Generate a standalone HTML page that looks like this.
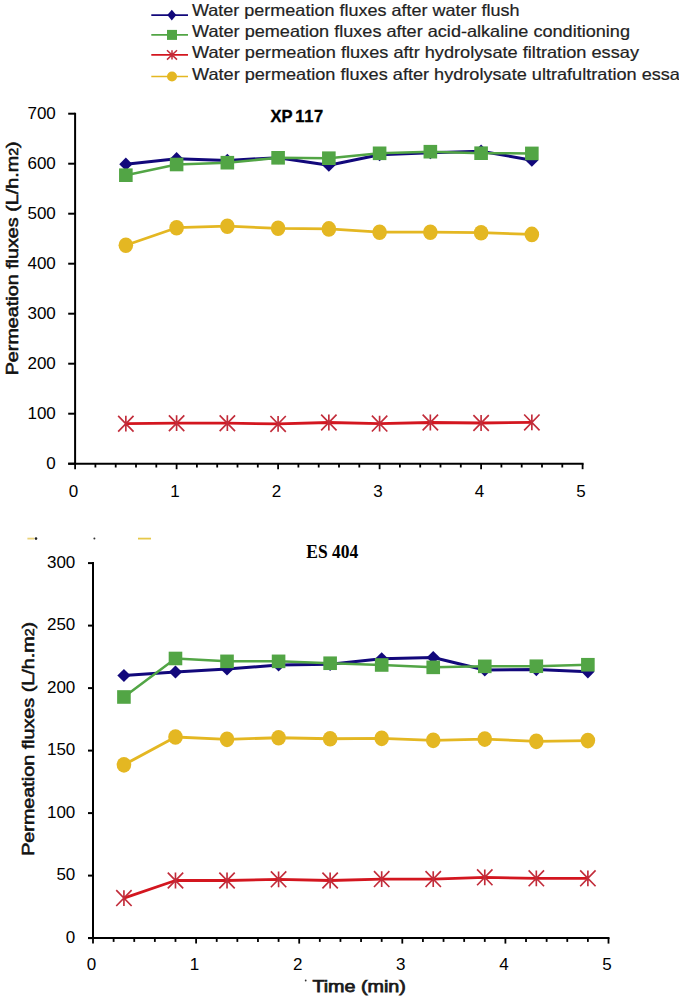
<!DOCTYPE html>
<html><head><meta charset="utf-8"><style>
html,body{margin:0;padding:0;background:#fff;}
body{width:679px;height:1000px;overflow:hidden;}
svg{display:block;}
text{font-family:"Liberation Sans",sans-serif;}
.ax{font-size:17px;fill:#000;}
.lg{font-size:16.5px;fill:#222;stroke:#222;stroke-width:0.2px;}
.t1{font-size:16.5px;font-weight:bold;fill:#000;stroke:#000;stroke-width:0.35px;}
.t2{font-family:"Liberation Serif",serif;font-size:18px;font-weight:bold;fill:#000;}
.yt{font-size:16.8px;fill:#111;stroke:#111;stroke-width:0.55px;}
.xt{font-size:16.8px;fill:#1a1a1a;stroke:#1a1a1a;stroke-width:0.75px;}
</style></head><body>
<svg width="679" height="1000" viewBox="0 0 679 1000">
<rect width="679" height="1000" fill="#fff"/>
<path d="M151.3 15.1H188" stroke="#12087b" stroke-width="1.7"/>
<path d="M171.8 9.8L176.3 15.1L171.8 20.4L167.3 15.1Z" fill="#12087b"/>
<text x="192" y="15.5" class="lg" textLength="327.5" lengthAdjust="spacingAndGlyphs">Water permeation fluxes after water flush</text>
<path d="M151.3 34.9H188" stroke="#52a545" stroke-width="1.7"/>
<rect x="167" y="29.9" width="10" height="10" fill="#52a545"/>
<text x="192" y="36.65" class="lg" textLength="438" lengthAdjust="spacingAndGlyphs">Water pemeation fluxes after acid-alkaline conditioning</text>
<path d="M151.3 54.9H188" stroke="#d3161f" stroke-width="1.7"/>
<path d="M167 50.2L177 59.6M177 50.2L167 59.6M172 50.2L172 59.6" stroke="#c22c3a" stroke-width="1.5" fill="none"/>
<text x="192" y="58.25" class="lg" textLength="447" lengthAdjust="spacingAndGlyphs">Water permeation fluxes aftr hydrolysate filtration essay</text>
<path d="M151.3 76.5H188" stroke="#e4b722" stroke-width="1.7"/>
<circle cx="172" cy="76.5" r="5" fill="#e4b722"/>
<text x="192" y="79.85" class="lg" textLength="497" lengthAdjust="spacingAndGlyphs">Water permeation fluxes after hydrolysate ultrafultration essay</text>
<path d="M75.1 112.7V464.7" stroke="#000" stroke-width="2"/>
<path d="M68.2 463.7H75.1" stroke="#000" stroke-width="2"/>
<text x="55.8" y="469" text-anchor="end" class="ax">0</text>
<path d="M68.2 413.7H75.1" stroke="#000" stroke-width="2"/>
<text x="55.8" y="419" text-anchor="end" class="ax">100</text>
<path d="M68.2 363.7H75.1" stroke="#000" stroke-width="2"/>
<text x="55.8" y="369" text-anchor="end" class="ax">200</text>
<path d="M68.2 313.7H75.1" stroke="#000" stroke-width="2"/>
<text x="55.8" y="319" text-anchor="end" class="ax">300</text>
<path d="M68.2 263.7H75.1" stroke="#000" stroke-width="2"/>
<text x="55.8" y="269" text-anchor="end" class="ax">400</text>
<path d="M68.2 213.7H75.1" stroke="#000" stroke-width="2"/>
<text x="55.8" y="219" text-anchor="end" class="ax">500</text>
<path d="M68.2 163.7H75.1" stroke="#000" stroke-width="2"/>
<text x="55.8" y="169" text-anchor="end" class="ax">600</text>
<path d="M68.2 113.7H75.1" stroke="#000" stroke-width="2"/>
<text x="55.8" y="119" text-anchor="end" class="ax">700</text>
<path d="M68.2 463.7H583.6" stroke="#000" stroke-width="2"/>
<path d="M75.1 463.7V469.2" stroke="#000" stroke-width="1.8"/>
<path d="M95.4 463.7V467.5" stroke="#000" stroke-width="1.8"/>
<path d="M115.7 463.7V467.5" stroke="#000" stroke-width="1.8"/>
<path d="M136 463.7V467.5" stroke="#000" stroke-width="1.8"/>
<path d="M156.3 463.7V467.5" stroke="#000" stroke-width="1.8"/>
<path d="M176.6 463.7V469.2" stroke="#000" stroke-width="1.8"/>
<path d="M196.9 463.7V467.5" stroke="#000" stroke-width="1.8"/>
<path d="M217.2 463.7V467.5" stroke="#000" stroke-width="1.8"/>
<path d="M237.5 463.7V467.5" stroke="#000" stroke-width="1.8"/>
<path d="M257.8 463.7V467.5" stroke="#000" stroke-width="1.8"/>
<path d="M278.1 463.7V469.2" stroke="#000" stroke-width="1.8"/>
<path d="M298.4 463.7V467.5" stroke="#000" stroke-width="1.8"/>
<path d="M318.7 463.7V467.5" stroke="#000" stroke-width="1.8"/>
<path d="M339 463.7V467.5" stroke="#000" stroke-width="1.8"/>
<path d="M359.3 463.7V467.5" stroke="#000" stroke-width="1.8"/>
<path d="M379.6 463.7V469.2" stroke="#000" stroke-width="1.8"/>
<path d="M399.9 463.7V467.5" stroke="#000" stroke-width="1.8"/>
<path d="M420.2 463.7V467.5" stroke="#000" stroke-width="1.8"/>
<path d="M440.5 463.7V467.5" stroke="#000" stroke-width="1.8"/>
<path d="M460.8 463.7V467.5" stroke="#000" stroke-width="1.8"/>
<path d="M481.1 463.7V469.2" stroke="#000" stroke-width="1.8"/>
<path d="M501.4 463.7V467.5" stroke="#000" stroke-width="1.8"/>
<path d="M521.7 463.7V467.5" stroke="#000" stroke-width="1.8"/>
<path d="M542 463.7V467.5" stroke="#000" stroke-width="1.8"/>
<path d="M562.3 463.7V467.5" stroke="#000" stroke-width="1.8"/>
<path d="M582.6 463.7V469.2" stroke="#000" stroke-width="1.8"/>
<text x="73.6" y="496.8" text-anchor="middle" class="ax">0</text>
<text x="175.1" y="496.8" text-anchor="middle" class="ax">1</text>
<text x="276.6" y="496.8" text-anchor="middle" class="ax">2</text>
<text x="378.1" y="496.8" text-anchor="middle" class="ax">3</text>
<text x="479.6" y="496.8" text-anchor="middle" class="ax">4</text>
<text x="581.1" y="496.8" text-anchor="middle" class="ax">5</text>
<path d="M125.85 164.2 L176.6 158.7 L227.35 160.4 L278.1 157.7 L328.85 165.2 L379.6 154.7 L430.35 152.7 L481.1 151.2 L531.85 160.2" stroke="#12087b" stroke-width="3.0" fill="none" stroke-linejoin="round"/>
<path d="M125.85 157.6L132.45 164.2L125.85 170.8L119.25 164.2Z" fill="#12087b"/>
<path d="M176.6 152.1L183.2 158.7L176.6 165.3L170 158.7Z" fill="#12087b"/>
<path d="M227.35 153.8L233.95 160.4L227.35 167L220.75 160.4Z" fill="#12087b"/>
<path d="M278.1 151.1L284.7 157.7L278.1 164.3L271.5 157.7Z" fill="#12087b"/>
<path d="M328.85 158.6L335.45 165.2L328.85 171.8L322.25 165.2Z" fill="#12087b"/>
<path d="M379.6 148.1L386.2 154.7L379.6 161.3L373 154.7Z" fill="#12087b"/>
<path d="M430.35 146.1L436.95 152.7L430.35 159.3L423.75 152.7Z" fill="#12087b"/>
<path d="M481.1 144.6L487.7 151.2L481.1 157.8L474.5 151.2Z" fill="#12087b"/>
<path d="M531.85 153.6L538.45 160.2L531.85 166.8L525.25 160.2Z" fill="#12087b"/>
<path d="M125.85 175.2 L176.6 164.5 L227.35 162.7 L278.1 157.8 L328.85 158.2 L379.6 153.3 L430.35 151.7 L481.1 153.2 L531.85 153.4" stroke="#52a545" stroke-width="2.5" fill="none" stroke-linejoin="round"/>
<rect x="119.05" y="168.4" width="13.6" height="13.6" fill="#52a545"/>
<rect x="169.8" y="157.7" width="13.6" height="13.6" fill="#52a545"/>
<rect x="220.55" y="155.9" width="13.6" height="13.6" fill="#52a545"/>
<rect x="271.3" y="151" width="13.6" height="13.6" fill="#52a545"/>
<rect x="322.05" y="151.4" width="13.6" height="13.6" fill="#52a545"/>
<rect x="372.8" y="146.5" width="13.6" height="13.6" fill="#52a545"/>
<rect x="423.55" y="144.9" width="13.6" height="13.6" fill="#52a545"/>
<rect x="474.3" y="146.4" width="13.6" height="13.6" fill="#52a545"/>
<rect x="525.05" y="146.6" width="13.6" height="13.6" fill="#52a545"/>
<path d="M125.85 423.7 L176.6 423.2 L227.35 423.2 L278.1 423.9 L328.85 422.5 L379.6 423.6 L430.35 422.5 L481.1 423 L531.85 422.4" stroke="#d3161f" stroke-width="2.8" fill="none" stroke-linejoin="round"/>
<path d="M118.15 415.8L133.55 431.6M133.55 415.8L118.15 431.6M125.85 415.8L125.85 431.6" stroke="#c22c3a" stroke-width="1.65" fill="none"/>
<path d="M168.9 415.3L184.3 431.1M184.3 415.3L168.9 431.1M176.6 415.3L176.6 431.1" stroke="#c22c3a" stroke-width="1.65" fill="none"/>
<path d="M219.65 415.3L235.05 431.1M235.05 415.3L219.65 431.1M227.35 415.3L227.35 431.1" stroke="#c22c3a" stroke-width="1.65" fill="none"/>
<path d="M270.4 416L285.8 431.8M285.8 416L270.4 431.8M278.1 416L278.1 431.8" stroke="#c22c3a" stroke-width="1.65" fill="none"/>
<path d="M321.15 414.6L336.55 430.4M336.55 414.6L321.15 430.4M328.85 414.6L328.85 430.4" stroke="#c22c3a" stroke-width="1.65" fill="none"/>
<path d="M371.9 415.7L387.3 431.5M387.3 415.7L371.9 431.5M379.6 415.7L379.6 431.5" stroke="#c22c3a" stroke-width="1.65" fill="none"/>
<path d="M422.65 414.6L438.05 430.4M438.05 414.6L422.65 430.4M430.35 414.6L430.35 430.4" stroke="#c22c3a" stroke-width="1.65" fill="none"/>
<path d="M473.4 415.1L488.8 430.9M488.8 415.1L473.4 430.9M481.1 415.1L481.1 430.9" stroke="#c22c3a" stroke-width="1.65" fill="none"/>
<path d="M524.15 414.5L539.55 430.3M539.55 414.5L524.15 430.3M531.85 414.5L531.85 430.3" stroke="#c22c3a" stroke-width="1.65" fill="none"/>
<path d="M125.85 245.2 L176.6 227.7 L227.35 226.2 L278.1 228.3 L328.85 228.9 L379.6 232.2 L430.35 232.2 L481.1 232.7 L531.85 234.4" stroke="#e4b722" stroke-width="2.8" fill="none" stroke-linejoin="round"/>
<ellipse cx="125.85" cy="245.2" rx="7.3" ry="7.8" fill="#e4b722"/>
<ellipse cx="176.6" cy="227.7" rx="7.3" ry="7.8" fill="#e4b722"/>
<ellipse cx="227.35" cy="226.2" rx="7.3" ry="7.8" fill="#e4b722"/>
<ellipse cx="278.1" cy="228.3" rx="7.3" ry="7.8" fill="#e4b722"/>
<ellipse cx="328.85" cy="228.9" rx="7.3" ry="7.8" fill="#e4b722"/>
<ellipse cx="379.6" cy="232.2" rx="7.3" ry="7.8" fill="#e4b722"/>
<ellipse cx="430.35" cy="232.2" rx="7.3" ry="7.8" fill="#e4b722"/>
<ellipse cx="481.1" cy="232.7" rx="7.3" ry="7.8" fill="#e4b722"/>
<ellipse cx="531.85" cy="234.4" rx="7.3" ry="7.8" fill="#e4b722"/>
<text x="270.6" y="121.6" class="t1">XP</text><text x="295.3" y="121.6" class="t1" letter-spacing="0.6">117</text>
<text transform="translate(17.6 375.3) rotate(-90)" class="yt" textLength="233.9" lengthAdjust="spacingAndGlyphs">Permeation fluxes (L/h.m<tspan font-size="12">2</tspan>)</text>
<path d="M27.4 538.6H34.2" stroke="#ead27a" stroke-width="1.8"/>
<circle cx="36" cy="538.6" r="1.3" fill="#222"/>
<circle cx="94.4" cy="538.6" r="1" fill="#333"/>
<path d="M138 538.6H151" stroke="#e6c84a" stroke-width="1.8"/>
<path d="M93 562.1V939.1" stroke="#000" stroke-width="2"/>
<path d="M88 938.1H93" stroke="#000" stroke-width="2"/>
<text x="75.3" y="942.8" text-anchor="end" class="ax">0</text>
<path d="M88 875.6H93" stroke="#000" stroke-width="2"/>
<text x="75.3" y="880.3" text-anchor="end" class="ax">50</text>
<path d="M88 813.1H93" stroke="#000" stroke-width="2"/>
<text x="75.3" y="817.8" text-anchor="end" class="ax">100</text>
<path d="M88 750.6H93" stroke="#000" stroke-width="2"/>
<text x="75.3" y="755.3" text-anchor="end" class="ax">150</text>
<path d="M88 688.1H93" stroke="#000" stroke-width="2"/>
<text x="75.3" y="692.8" text-anchor="end" class="ax">200</text>
<path d="M88 625.6H93" stroke="#000" stroke-width="2"/>
<text x="75.3" y="630.3" text-anchor="end" class="ax">250</text>
<path d="M88 563.1H93" stroke="#000" stroke-width="2"/>
<text x="75.3" y="567.8" text-anchor="end" class="ax">300</text>
<path d="M88 938.1H609.5" stroke="#000" stroke-width="2"/>
<path d="M93 938.1V943.6" stroke="#000" stroke-width="1.8"/>
<path d="M113.62 938.1V941.9" stroke="#000" stroke-width="1.8"/>
<path d="M134.24 938.1V941.9" stroke="#000" stroke-width="1.8"/>
<path d="M154.86 938.1V941.9" stroke="#000" stroke-width="1.8"/>
<path d="M175.48 938.1V941.9" stroke="#000" stroke-width="1.8"/>
<path d="M196.1 938.1V943.6" stroke="#000" stroke-width="1.8"/>
<path d="M216.72 938.1V941.9" stroke="#000" stroke-width="1.8"/>
<path d="M237.34 938.1V941.9" stroke="#000" stroke-width="1.8"/>
<path d="M257.96 938.1V941.9" stroke="#000" stroke-width="1.8"/>
<path d="M278.58 938.1V941.9" stroke="#000" stroke-width="1.8"/>
<path d="M299.2 938.1V943.6" stroke="#000" stroke-width="1.8"/>
<path d="M319.82 938.1V941.9" stroke="#000" stroke-width="1.8"/>
<path d="M340.44 938.1V941.9" stroke="#000" stroke-width="1.8"/>
<path d="M361.06 938.1V941.9" stroke="#000" stroke-width="1.8"/>
<path d="M381.68 938.1V941.9" stroke="#000" stroke-width="1.8"/>
<path d="M402.3 938.1V943.6" stroke="#000" stroke-width="1.8"/>
<path d="M422.92 938.1V941.9" stroke="#000" stroke-width="1.8"/>
<path d="M443.54 938.1V941.9" stroke="#000" stroke-width="1.8"/>
<path d="M464.16 938.1V941.9" stroke="#000" stroke-width="1.8"/>
<path d="M484.78 938.1V941.9" stroke="#000" stroke-width="1.8"/>
<path d="M505.4 938.1V943.6" stroke="#000" stroke-width="1.8"/>
<path d="M526.02 938.1V941.9" stroke="#000" stroke-width="1.8"/>
<path d="M546.64 938.1V941.9" stroke="#000" stroke-width="1.8"/>
<path d="M567.26 938.1V941.9" stroke="#000" stroke-width="1.8"/>
<path d="M587.88 938.1V941.9" stroke="#000" stroke-width="1.8"/>
<path d="M608.5 938.1V943.6" stroke="#000" stroke-width="1.8"/>
<text x="91.5" y="969.9" text-anchor="middle" class="ax">0</text>
<text x="194.6" y="969.9" text-anchor="middle" class="ax">1</text>
<text x="297.7" y="969.9" text-anchor="middle" class="ax">2</text>
<text x="400.8" y="969.9" text-anchor="middle" class="ax">3</text>
<text x="503.9" y="969.9" text-anchor="middle" class="ax">4</text>
<text x="607" y="969.9" text-anchor="middle" class="ax">5</text>
<path d="M123.93 675.48 L175.48 671.98 L227.03 668.98 L278.58 664.98 L330.13 664.35 L381.68 658.85 L433.23 657.48 L484.78 669.98 L536.33 669.6 L587.88 671.85" stroke="#12087b" stroke-width="3.0" fill="none" stroke-linejoin="round"/>
<path d="M123.93 668.88L130.53 675.48L123.93 682.08L117.33 675.48Z" fill="#12087b"/>
<path d="M175.48 665.38L182.08 671.98L175.48 678.58L168.88 671.98Z" fill="#12087b"/>
<path d="M227.03 662.38L233.63 668.98L227.03 675.58L220.43 668.98Z" fill="#12087b"/>
<path d="M278.58 658.38L285.18 664.98L278.58 671.58L271.98 664.98Z" fill="#12087b"/>
<path d="M330.13 657.75L336.73 664.35L330.13 670.95L323.53 664.35Z" fill="#12087b"/>
<path d="M381.68 652.25L388.28 658.85L381.68 665.45L375.08 658.85Z" fill="#12087b"/>
<path d="M433.23 650.88L439.83 657.48L433.23 664.08L426.63 657.48Z" fill="#12087b"/>
<path d="M484.78 663.38L491.38 669.98L484.78 676.58L478.18 669.98Z" fill="#12087b"/>
<path d="M536.33 663L542.93 669.6L536.33 676.2L529.73 669.6Z" fill="#12087b"/>
<path d="M587.88 665.25L594.48 671.85L587.88 678.45L581.28 671.85Z" fill="#12087b"/>
<path d="M123.93 696.98 L175.48 658.48 L227.03 661.35 L278.58 661.35 L330.13 663.23 L381.68 664.98 L433.23 667.35 L484.78 666.35 L536.33 666.23 L587.88 664.73" stroke="#52a545" stroke-width="2.5" fill="none" stroke-linejoin="round"/>
<rect x="117.13" y="690.18" width="13.6" height="13.6" fill="#52a545"/>
<rect x="168.68" y="651.68" width="13.6" height="13.6" fill="#52a545"/>
<rect x="220.23" y="654.55" width="13.6" height="13.6" fill="#52a545"/>
<rect x="271.78" y="654.55" width="13.6" height="13.6" fill="#52a545"/>
<rect x="323.33" y="656.43" width="13.6" height="13.6" fill="#52a545"/>
<rect x="374.88" y="658.18" width="13.6" height="13.6" fill="#52a545"/>
<rect x="426.43" y="660.55" width="13.6" height="13.6" fill="#52a545"/>
<rect x="477.98" y="659.55" width="13.6" height="13.6" fill="#52a545"/>
<rect x="529.53" y="659.43" width="13.6" height="13.6" fill="#52a545"/>
<rect x="581.08" y="657.93" width="13.6" height="13.6" fill="#52a545"/>
<path d="M123.93 898.1 L175.48 880.48 L227.03 880.48 L278.58 879.35 L330.13 880.48 L381.68 879.1 L433.23 879.1 L484.78 877.35 L536.33 878.35 L587.88 878.35" stroke="#d3161f" stroke-width="2.8" fill="none" stroke-linejoin="round"/>
<path d="M116.23 890.2L131.63 906M131.63 890.2L116.23 906M123.93 890.2L123.93 906" stroke="#c22c3a" stroke-width="1.65" fill="none"/>
<path d="M167.78 872.58L183.18 888.38M183.18 872.58L167.78 888.38M175.48 872.58L175.48 888.38" stroke="#c22c3a" stroke-width="1.65" fill="none"/>
<path d="M219.33 872.58L234.73 888.38M234.73 872.58L219.33 888.38M227.03 872.58L227.03 888.38" stroke="#c22c3a" stroke-width="1.65" fill="none"/>
<path d="M270.88 871.45L286.28 887.25M286.28 871.45L270.88 887.25M278.58 871.45L278.58 887.25" stroke="#c22c3a" stroke-width="1.65" fill="none"/>
<path d="M322.43 872.58L337.83 888.38M337.83 872.58L322.43 888.38M330.13 872.58L330.13 888.38" stroke="#c22c3a" stroke-width="1.65" fill="none"/>
<path d="M373.98 871.2L389.38 887M389.38 871.2L373.98 887M381.68 871.2L381.68 887" stroke="#c22c3a" stroke-width="1.65" fill="none"/>
<path d="M425.53 871.2L440.93 887M440.93 871.2L425.53 887M433.23 871.2L433.23 887" stroke="#c22c3a" stroke-width="1.65" fill="none"/>
<path d="M477.08 869.45L492.48 885.25M492.48 869.45L477.08 885.25M484.78 869.45L484.78 885.25" stroke="#c22c3a" stroke-width="1.65" fill="none"/>
<path d="M528.63 870.45L544.03 886.25M544.03 870.45L528.63 886.25M536.33 870.45L536.33 886.25" stroke="#c22c3a" stroke-width="1.65" fill="none"/>
<path d="M580.18 870.45L595.58 886.25M595.58 870.45L580.18 886.25M587.88 870.45L587.88 886.25" stroke="#c22c3a" stroke-width="1.65" fill="none"/>
<path d="M123.93 764.85 L175.48 736.98 L227.03 739.35 L278.58 737.73 L330.13 738.73 L381.68 738.35 L433.23 740.35 L484.78 739.1 L536.33 741.35 L587.88 740.6" stroke="#e4b722" stroke-width="2.8" fill="none" stroke-linejoin="round"/>
<ellipse cx="123.93" cy="764.85" rx="7.3" ry="7.8" fill="#e4b722"/>
<ellipse cx="175.48" cy="736.98" rx="7.3" ry="7.8" fill="#e4b722"/>
<ellipse cx="227.03" cy="739.35" rx="7.3" ry="7.8" fill="#e4b722"/>
<ellipse cx="278.58" cy="737.73" rx="7.3" ry="7.8" fill="#e4b722"/>
<ellipse cx="330.13" cy="738.73" rx="7.3" ry="7.8" fill="#e4b722"/>
<ellipse cx="381.68" cy="738.35" rx="7.3" ry="7.8" fill="#e4b722"/>
<ellipse cx="433.23" cy="740.35" rx="7.3" ry="7.8" fill="#e4b722"/>
<ellipse cx="484.78" cy="739.1" rx="7.3" ry="7.8" fill="#e4b722"/>
<ellipse cx="536.33" cy="741.35" rx="7.3" ry="7.8" fill="#e4b722"/>
<ellipse cx="587.88" cy="740.6" rx="7.3" ry="7.8" fill="#e4b722"/>
<text x="306.3" y="557.6" class="t2" textLength="52" lengthAdjust="spacingAndGlyphs">ES 404</text>
<text transform="translate(34.2 855.8) rotate(-90)" class="yt" textLength="233.9" lengthAdjust="spacingAndGlyphs">Permeation fluxes (L/h.m<tspan font-size="12">2</tspan>)</text>
<text x="312.4" y="992.2" class="xt" textLength="93.5" lengthAdjust="spacingAndGlyphs">Time (min)</text>
<circle cx="305.7" cy="980.5" r="0.9" fill="#333"/>
</svg>
</body></html>
